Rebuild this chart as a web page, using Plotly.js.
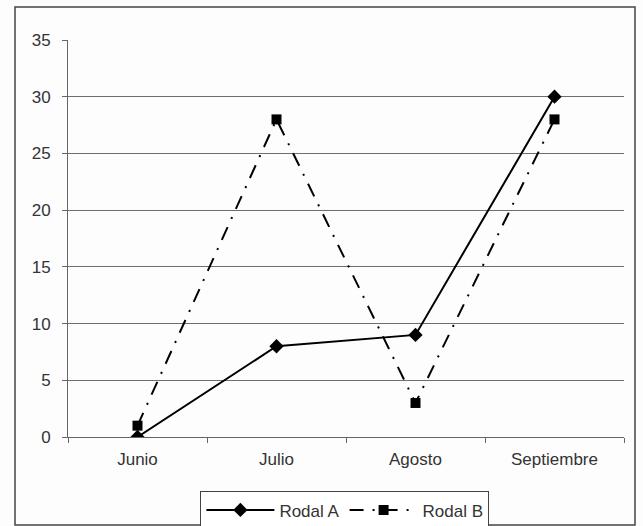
<!DOCTYPE html>
<html>
<head>
<meta charset="utf-8">
<script src="https://cdn.plot.ly/plotly-3.0.1.min.js"></script>
<style>html,body{margin:0;padding:0;background:#fff;}</style>
</head>
<body>
<div id="chart" style="width:643px;height:526px;"></div>
<script>
var months = ["Junio", "Julio", "Agosto", "Septiembre"];
var rodalA = [0, 8, 9, 30];
var rodalB = [1, 28, 3, 28];
var yTicks = [0, 5, 10, 15, 20, 25, 30, 35];
var gridTicks = [5, 10, 15, 20, 25, 30];

var font = {family: "Liberation Sans, Arial, sans-serif", size: 17, color: "#333"};

var traces = [
  {x: months, y: [null, null, null, null], yaxis: "y2", type: "scatter", mode: "lines",
   showlegend: false, hoverinfo: "skip"},
  {x: months, y: rodalA, name: "Rodal A", type: "scatter", mode: "lines+markers",
   line: {color: "#000", width: 2, dash: "solid"},
   marker: {symbol: "diamond", size: 11, color: "#000"}},
  {x: months, y: rodalB, name: "Rodal B", type: "scatter", mode: "lines+markers",
   line: {color: "#000", width: 2, dash: "14px,9px,2px,9px"},
   marker: {symbol: "square", size: 10, color: "#000"}}
];

var layout = {
  width: 643, height: 526,
  margin: {l: 68, r: 19, t: 40, b: 89, autoexpand: false},
  paper_bgcolor: "#fdfdfe", plot_bgcolor: "#fdfdfe",
  font: font,
  showlegend: true,
  legend: {orientation: "h", x: 0.498, xanchor: "center", y: -0.137, yanchor: "top",
           bordercolor: "#444", borderwidth: 1, bgcolor: "#fff", font: font,
           itemwidth: 68, tracegroupgap: 0},
  xaxis: {type: "category", range: [-0.5, 3.5], tickson: "boundaries",
          ticks: "outside", ticklen: 5, tickcolor: "#666", showline: true,
          linecolor: "#666", linewidth: 1, showgrid: false, zeroline: false,
          tickfont: font, ticklabelstandoff: 7},
  yaxis: {range: [0, 35], tickvals: yTicks, ticks: "outside", ticklen: 5,
          tickcolor: "#666", showline: true, linecolor: "#666", linewidth: 1,
          showgrid: false, zeroline: false, tickfont: font, ticklabelstandoff: 8},
  yaxis2: {range: [0, 35], overlaying: "y", tickvals: gridTicks, showticklabels: false,
           ticks: "", showgrid: true, gridcolor: "#6e6e6e", gridwidth: 1, zeroline: false,
           showline: false},
  shapes: [
    {type: "rect", xref: "paper", yref: "paper",
     x0: (15 - 68) / 556, x1: (635 - 68) / 556,
     y0: (437 - 525) / 397, y1: (437 - 7) / 397,
     line: {color: "#444", width: 1.5}, fillcolor: "rgba(0,0,0,0)", layer: "below"}
  ]
};

Plotly.newPlot("chart", traces, layout, {displayModeBar: false, staticPlot: true});
</script>
</body>
</html>
